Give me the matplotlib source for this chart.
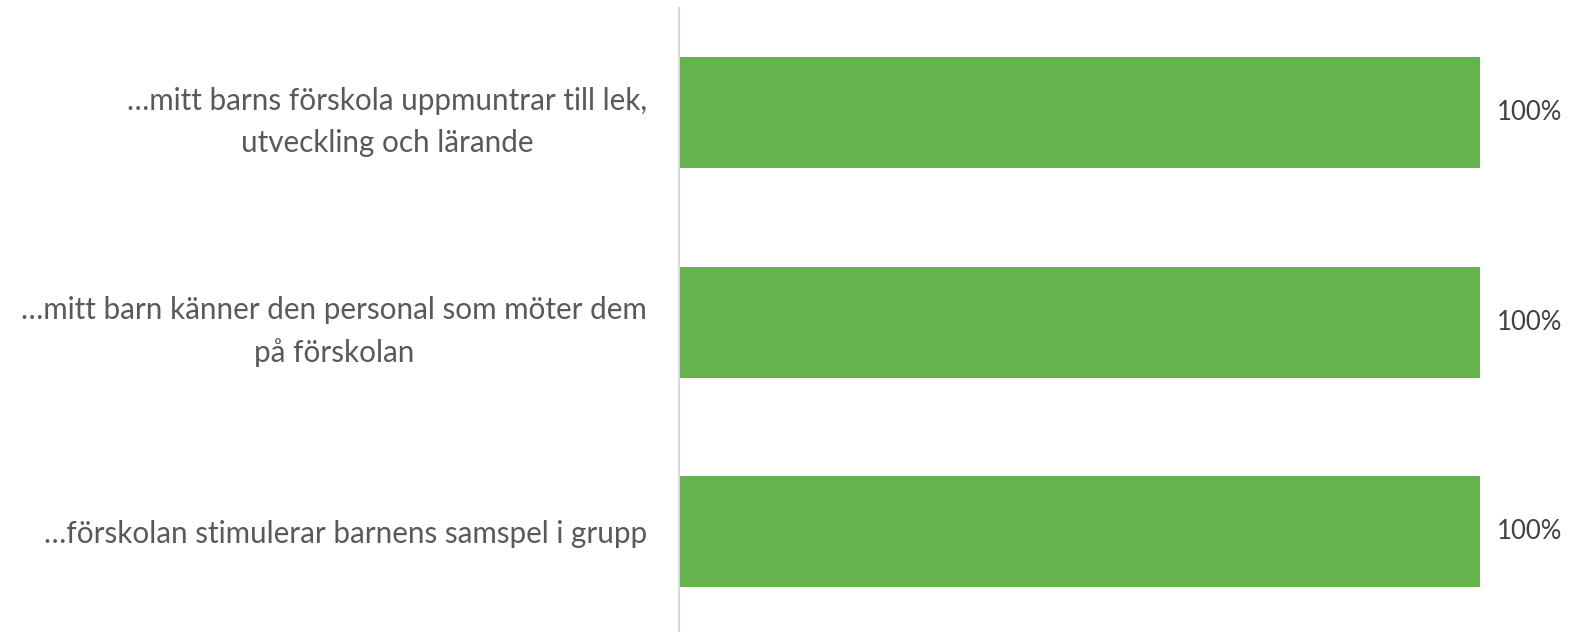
import matplotlib.pyplot as plt

# Andel som instämmer (%)
labels = [
    "…mitt barns förskola uppmuntrar till lek,\nutveckling och lärande",
    "…mitt barn känner den personal som möter dem\npå förskolan",
    "…förskolan stimulerar barnens samspel i grupp",
]
values = [100, 100, 100]
value_labels = ["100%", "100%", "100%"]

plt.rcParams['font.family'] = ['Lato', 'DejaVu Sans']

fig = plt.figure(figsize=(15.69, 6.32), dpi=100)
ax = fig.add_axes([679 / 1569, 0, (1480 - 679) / 1569, 1 - 8 / 632])

y = list(range(len(labels)))
ax.barh(y, values, height=0.53, color='#65B34C')

for yi, v, t in zip(y, values, value_labels):
    ax.text(v + 2.1, yi, t, ha='left', va='center', fontsize=18.5,
            color='#404040', clip_on=False)

ax.set_xlim(0, 100)
ax.set_ylim(2.48, -0.5)
ax.set_yticks(y)
ax.set_yticklabels(labels, fontsize=21.3, color='#595959', ha='right',
                   multialignment='center', linespacing=1.6)
ax.tick_params(axis='y', length=0, pad=23)
ax.set_xticks([])
for s in ['top', 'right', 'bottom']:
    ax.spines[s].set_visible(False)
ax.spines['left'].set_color('#D9D9D9')
ax.spines['left'].set_linewidth(1.5)

fig.savefig("out.png", dpi=100)
